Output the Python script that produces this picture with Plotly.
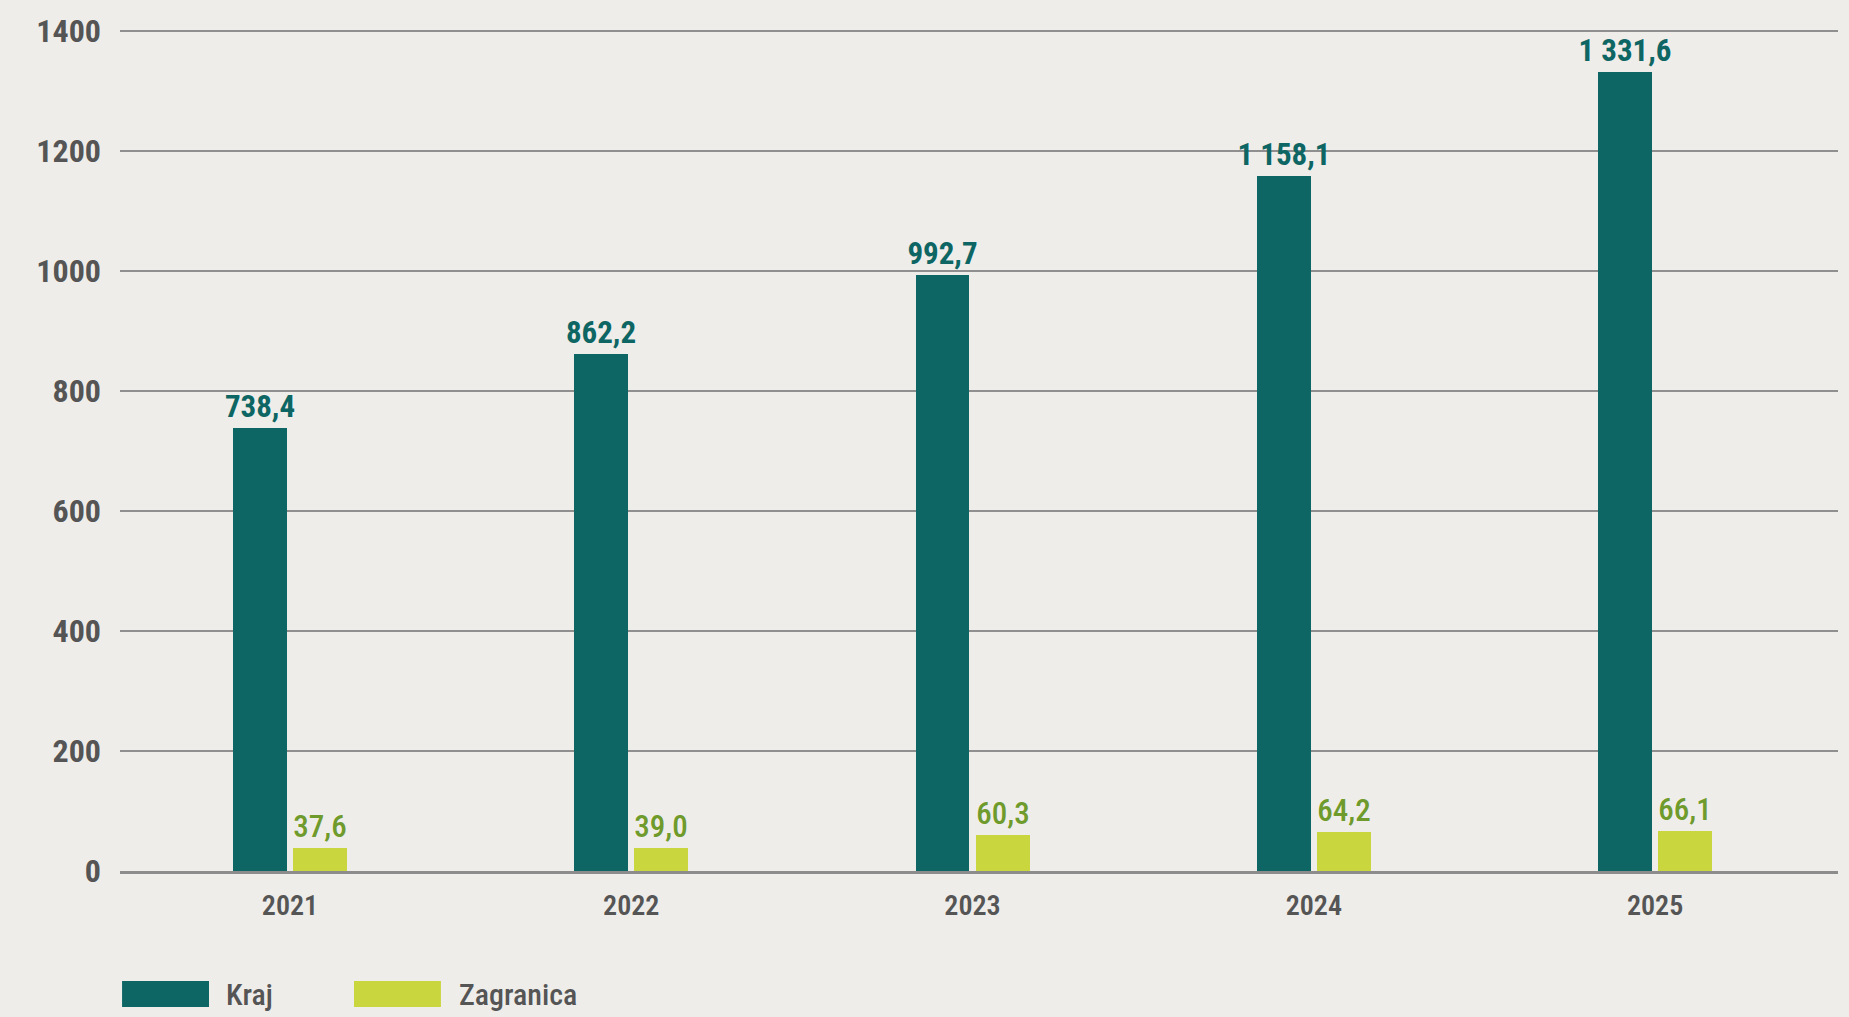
import plotly.graph_objects as go

years = ["2021", "2022", "2023", "2024", "2025"]
kraj = [738.4, 862.2, 992.7, 1158.1, 1331.6]
zagranica = [37.6, 39.0, 60.3, 64.2, 66.1]
y_ticks = [0, 200, 400, 600, 800, 1000, 1200, 1400]

FONT = "Roboto Condensed, Liberation Sans Narrow, Arial Narrow, Roboto, sans-serif"
C_KRAJ = "#0d6663"
C_ZAG = "#c9d63d"
C_ZAG_TXT = "#6f9a2c"
C_TXT = "#555555"
BG = "#efedea"


def fmt(v):
    return f"{v:,.1f}".replace(",", " ").replace(".", ",")


x = list(range(len(years)))

fig = go.Figure()
fig.add_trace(go.Bar(
    x=x, y=kraj, name="Kraj", marker=dict(color=C_KRAJ, line=dict(width=0)),
    width=0.158, offset=-0.167,
    text=[fmt(v) for v in kraj], textposition="outside", constraintext="none",
    textfont=dict(family=FONT, size=31, color=C_KRAJ, weight="bold"),
    cliponaxis=False, showlegend=False,
))
fig.add_trace(go.Bar(
    x=x, y=zagranica, name="Zagranica", marker=dict(color=C_ZAG, line=dict(width=0)),
    width=0.158, offset=0.009,
    text=[fmt(v) for v in zagranica], textposition="outside", constraintext="none",
    textfont=dict(family=FONT, size=31, color=C_ZAG_TXT, weight=500),
    cliponaxis=False, showlegend=False,
))

# custom legend (wide swatches)
legend_items = [("Kraj", C_KRAJ, 0.0012, 0.0605), ("Zagranica", C_ZAG, 0.1362, 0.1962)]
for name, col, x0, xt in legend_items:
    fig.add_shape(type="rect", xref="paper", yref="paper", x0=x0, x1=x0 + 0.0506,
                  y0=-0.1613, y1=-0.1305, fillcolor=col, line=dict(width=0), layer="above")
    fig.add_annotation(xref="paper", yref="paper", x=xt, y=-0.146, text=name,
                       showarrow=False, xanchor="left", yanchor="middle",
                       font=dict(family=FONT, size=30, color=C_TXT, weight=500))

fig.update_layout(
    width=1849, height=1017,
    margin=dict(l=120, r=11, t=28, b=146),
    paper_bgcolor=BG, plot_bgcolor=BG,
    bargap=0, showlegend=False,
    font=dict(family=FONT, color=C_TXT),
)
fig.update_xaxes(
    range=[-0.498, 4.536], tickvals=x, ticktext=years,
    tickfont=dict(family=FONT, size=28, color=C_TXT, weight=600),
    showgrid=False, zeroline=False, showline=True, linecolor="#8c8c8c", linewidth=3,
    ticks="", ticklabelstandoff=7,
)
fig.update_yaxes(
    range=[0, 1405], tickvals=y_ticks,
    tickfont=dict(family=FONT, size=32, color=C_TXT, weight="bold"),
    showgrid=True, gridcolor="#8f8f8f", gridwidth=2, zeroline=False,
    ticks="", ticklabelstandoff=18,
)

fig.write_html(
    "out.html",
    config={"displayModeBar": False},
    post_script="document.body.style.margin='0';document.body.style.background='%s';" % BG,
)
